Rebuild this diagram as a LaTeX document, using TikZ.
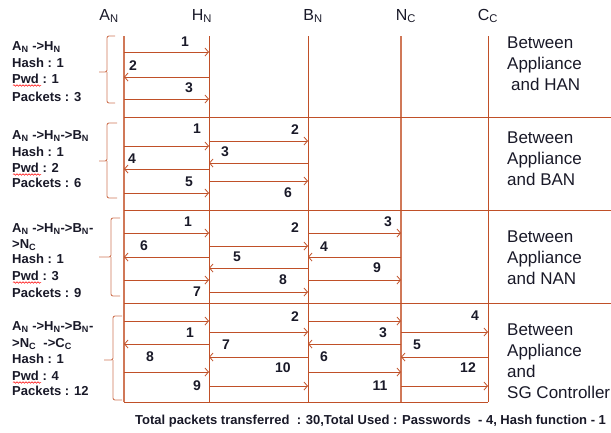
\documentclass[tikz,border=0pt]{standalone}
\usepackage{fontspec}
\setmainfont{Liberation Sans}
\usetikzlibrary{arrows.meta,calc,decorations.pathmorphing}

\definecolor{rust}{RGB}{192,80,40}
\definecolor{pale}{RGB}{208,120,88}
\definecolor{ink}{RGB}{25,25,40}

\tikzset{
  life/.style={rust, line width=0.9pt},
  band/.style={rust, line width=0.9pt},
  msg/.style={rust, line width=0.8pt, -{Straight Barb[length=3.5pt,width=8pt]}},
  num/.style={inner sep=0pt, text=ink, font=\fontsize{14}{14}\selectfont\bfseries},
  head/.style={inner sep=0pt, anchor=base, text=ink, font=\fontsize{16}{16}\selectfont},
  info/.style={inner sep=0pt, anchor=base west, text=ink, font=\fontsize{13}{13}\selectfont\bfseries},
  zone/.style={inner sep=0pt, anchor=base west, text=ink, font=\fontsize{17}{17}\selectfont},
  brc/.style={pale, line width=0.9pt, rounded corners=2pt},
  spell/.style={red, line width=0.5pt, decorate, decoration={snake, amplitude=0.8pt, segment length=3pt}}
}

\begin{document}
\begin{tikzpicture}[x=1pt, y=-1pt]

\useasboundingbox (0,0) rectangle (611,432);

\coordinate (an) at (124, 36);
\coordinate (hn) at (209, 36);
\coordinate (bn) at (308, 36);
\coordinate (nc) at (401, 36);
\coordinate (cc) at (488, 36);
\coordinate (edge) at (611, 36);

\node[head] (han) at (109, 20) {A\textsubscript{N}};
\node[head] (hhn) at (202, 20) {H\textsubscript{N}};
\node[head] (hbn) at (313, 20) {B\textsubscript{N}};
\node[head] (hnc) at (406, 20) {N\textsubscript{C}};
\node[head] (hcc) at (488, 20) {C\textsubscript{C}};

\draw [life, pale, line width=1.6pt] (an) to (an |- 0,402);
\draw [life] (hn) to (hn |- 0,402);
\draw [life] (bn) to (bn |- 0,402);
\draw [life, pale, line width=1.1pt] (nc) to (nc |- 0,402);
\draw [life] (cc) to (cc |- 0,402);

\draw [band] (an |- 0,117) to (edge |- 0,117);
\draw [band] (an |- 0,210) to (edge |- 0,210);
\draw [band] (an |- 0,303) to (edge |- 0,303);
\draw [band] (an |- 0,402) to (cc |- 0,402);

% between appliance and HAN
\draw [msg] (an |- 0,52) to (hn |- 0,52);
\draw [msg] (hn |- 0,77) to (an |- 0,77);
\draw [msg] (an |- 0,99) to (hn |- 0,99);
\node[num] (r1m1) at (185, 42) {1};
\node[num] (r1m2) at (133, 66) {2};
\node[num] (r1m3) at (189, 88) {3};

% between appliance and BAN
\draw [msg] (an |- 0,146) to (hn |- 0,146);
\draw [msg] (hn |- 0,141) to (bn |- 0,141);
\draw [msg] (bn |- 0,163) to (hn |- 0,163);
\draw [msg] (hn |- 0,169) to (an |- 0,169);
\draw [msg] (an |- 0,193) to (hn |- 0,193);
\draw [msg] (hn |- 0,181) to (bn |- 0,181);
\node[num] (r2m1) at (197, 129) {1};
\node[num] (r2m2) at (295, 130) {2};
\node[num] (r2m3) at (225, 152) {3};
\node[num] (r2m4) at (132, 159) {4};
\node[num] (r2m5) at (189, 182) {5};
\node[num] (r2m6) at (288, 193) {6};

% between appliance and NAN
\draw [msg] (an |- 0,233) to (hn |- 0,233);
\draw [msg] (hn |- 0,246) to (bn |- 0,246);
\draw [msg] (bn |- 0,233) to (nc |- 0,233);
\draw [msg] (nc |- 0,257) to (bn |- 0,257);
\draw [msg] (bn |- 0,268) to (hn |- 0,268);
\draw [msg] (hn |- 0,257) to (an |- 0,257);
\draw [msg] (an |- 0,280) to (hn |- 0,280);
\draw [msg] (hn |- 0,292) to (bn |- 0,292);
\draw [msg] (bn |- 0,280) to (nc |- 0,280);
\node[num] (r3m1) at (188, 222) {1};
\node[num] (r3m2) at (295, 228) {2};
\node[num] (r3m3) at (388, 222) {3};
\node[num] (r3m4) at (324, 247) {4};
\node[num] (r3m5) at (237, 257) {5};
\node[num] (r3m6) at (144, 246) {6};
\node[num] (r3m7) at (197, 292) {7};
\node[num] (r3m8) at (283, 280) {8};
\node[num] (r3m9) at (377, 268) {9};

% between appliance and SG controller
\draw [msg] (an |- 0,321) to (hn |- 0,321);
\draw [msg] (hn |- 0,332) to (bn |- 0,332);
\draw [msg] (bn |- 0,321) to (nc |- 0,321);
\draw [msg] (nc |- 0,332) to (cc |- 0,332);
\draw [msg] (cc |- 0,357) to (nc |- 0,357);
\draw [msg] (nc |- 0,344) to (bn |- 0,344);
\draw [msg] (bn |- 0,357) to (hn |- 0,357);
\draw [msg] (hn |- 0,344) to (an |- 0,344);
\draw [msg] (an |- 0,372) to (hn |- 0,372);
\draw [msg] (hn |- 0,386) to (bn |- 0,386);
\draw [msg] (bn |- 0,372) to (nc |- 0,372);
\draw [msg] (nc |- 0,386) to (cc |- 0,386);
\node[num] (r4m1) at (190, 333) {1};
\node[num] (r4m2) at (295, 317) {2};
\node[num] (r4m3) at (383, 333) {3};
\node[num] (r4m4) at (475, 316) {4};
\node[num] (r4m5) at (417, 345) {5};
\node[num] (r4m6) at (324, 357) {6};
\node[num] (r4m7) at (226, 345) {7};
\node[num] (r4m8) at (150, 357) {8};
\node[num] (r4m9) at (197, 386) {9};
\node[num] (r4m10) at (283, 368) {10};
\node[num] (r4m11) at (380, 386) {11};
\node[num] (r4m12) at (468, 368) {12};

% braces
\draw [brc] (115, 36) -| (107, 72) -- (99, 72) (107, 72) |- (115, 103);
\draw [brc] (117, 123) -| (107, 161) -- (99, 161) (107, 161) |- (117, 198);
\draw [brc] (120, 218) -| (111, 257) -- (99, 257) (111, 257) |- (120, 296);
\draw [brc] (122, 316) -| (113, 360) -- (104, 360) (113, 360) |- (122, 400);

% left texts
\node[info] (r1i1) at (12, 50) {A\textsubscript{N} ->H\textsubscript{N}};
\node[info] (r1i2) at (12, 67) {Hash : 1};
\node[info] (r1i3) at (12, 83) {Pwd : 1};
\node[info] (r1i4) at (12, 101) {Packets : 3};

\node[info] (r2i1) at (12, 139) {A\textsubscript{N} ->H\textsubscript{N}->B\textsubscript{N}};
\node[info] (r2i2) at (12, 156) {Hash : 1};
\node[info] (r2i3) at (12, 172) {Pwd : 2};
\node[info] (r2i4) at (12, 187) {Packets : 6};

\node[info] (r3i1) at (12, 232) {A\textsubscript{N} ->H\textsubscript{N}->B\textsubscript{N}-};
\node[info] (r3i2) at (12, 248) {>N\textsubscript{C}};
\node[info] (r3i3) at (12, 263) {Hash : 1};
\node[info] (r3i4) at (12, 280) {Pwd : 3};
\node[info] (r3i5) at (12, 297) {Packets : 9};

\node[info] (r4i1) at (12, 330) {A\textsubscript{N} ->H\textsubscript{N}->B\textsubscript{N}-};
\node[info] (r4i2) at (12, 347) {>N\textsubscript{C}\ \ ->C\textsubscript{C}};
\node[info] (r4i3) at (12, 363) {Hash : 1};
\node[info] (r4i4) at (12, 380) {Pwd : 4};
\node[info] (r4i5) at (12, 395) {Packets : 12};

\draw [spell] ($(r1i3.base west) + (1, 2.5)$) to ++(28, 0);
\draw [spell] ($(r2i3.base west) + (1, 2.5)$) to ++(28, 0);
\draw [spell] ($(r3i4.base west) + (1, 2.5)$) to ++(28, 0);
\draw [spell] ($(r4i4.base west) + (1, 2.5)$) to ++(28, 0);

% right texts
\node[zone] (r1z1) at (507, 48) {Between};
\node[zone] (r1z2) at (507, 69) {Appliance};
\node[zone] (r1z3) at (511, 90) {and HAN};

\node[zone] (r2z1) at (507, 143) {Between};
\node[zone] (r2z2) at (507, 164) {Appliance};
\node[zone] (r2z3) at (507, 185) {and BAN};

\node[zone] (r3z1) at (507, 242) {Between};
\node[zone] (r3z2) at (507, 263) {Appliance};
\node[zone] (r3z3) at (507, 284) {and NAN};

\node[zone] (r4z1) at (507, 335) {Between};
\node[zone] (r4z2) at (507, 356) {Appliance};
\node[zone] (r4z3) at (507, 377) {and};
\node[zone] (r4z4) at (507, 398) {SG Controller};

\node[info] (total) at (135, 424) {Total packets transferred\ \ : 30,Total Used : Passwords\ \ - 4, Hash function - 1};

\end{tikzpicture}
\end{document}
